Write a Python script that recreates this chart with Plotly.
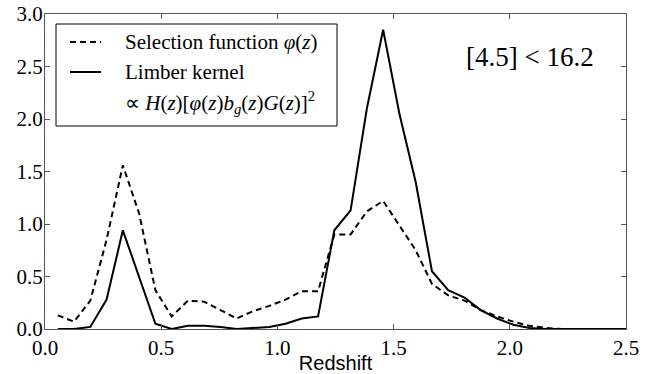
import numpy as np
import plotly.graph_objects as go

# Redshift bin centres
redshift = [0.055, 0.125, 0.195, 0.265, 0.335, 0.405, 0.475, 0.545, 0.615, 0.685,
            0.755, 0.825, 0.895, 0.965, 1.035, 1.105, 1.175, 1.245, 1.315, 1.385,
            1.455, 1.525, 1.595, 1.665, 1.735, 1.805, 1.875, 1.945, 2.015, 2.085,
            2.155, 2.225, 2.295, 2.365, 2.435, 2.505]

# Normalised selection function phi(z)
selection = [0.13, 0.07, 0.27, 0.85, 1.56, 1.10, 0.37, 0.12, 0.27, 0.26,
             0.18, 0.10, 0.17, 0.22, 0.28, 0.36, 0.36, 0.90, 0.90, 1.12,
             1.22, 0.98, 0.75, 0.43, 0.32, 0.27, 0.18, 0.12, 0.07, 0.03,
             0.01, 0.0, 0.0, 0.0, 0.0, 0.0]

# Limber kernel H(z)[phi(z) b_g(z) G(z)]^2 (arbitrary normalisation)
limber = [0.0, 0.0, 0.02, 0.28, 0.94, 0.50, 0.05, 0.0, 0.03, 0.03,
          0.02, 0.0, 0.01, 0.02, 0.05, 0.10, 0.12, 0.94, 1.13, 2.10,
          2.85, 2.05, 1.40, 0.55, 0.37, 0.30, 0.18, 0.10, 0.04, 0.01,
          0.0, 0.0, 0.0, 0.0, 0.0, 0.0]

x_ticks = [0.0, 0.5, 1.0, 1.5, 2.0, 2.5]
y_ticks = [0.0, 0.5, 1.0, 1.5, 2.0, 2.5, 3.0]

legend_labels = [
    "Selection function <i>φ</i>(<i>z</i>)",
    "Limber kernel",
    "∝ <i>H</i>(<i>z</i>)[<i>φ</i>(<i>z</i>)<i>b<sub>g</sub></i>(<i>z</i>)<i>G</i>(<i>z</i>)]<sup>2</sup>",
]

serif = "Liberation Serif"
sans = "Liberation Sans"
axis_col = "#555555"

W, H = 656, 374
M = dict(l=45, r=30, t=14, b=45)
pw = W - M["l"] - M["r"]
ph = H - M["t"] - M["b"]


def px_x(p):
    """Pixel column -> paper x."""
    return (p - M["l"]) / pw


def px_y(p):
    """Pixel row -> paper y."""
    return 1 - (p - M["t"]) / ph


fig = go.Figure()
fig.add_trace(go.Scatter(
    x=redshift, y=selection, mode="lines", showlegend=False,
    name="Selection function",
    line=dict(color="black", width=2, dash="6px,4px"),
))
fig.add_trace(go.Scatter(
    x=redshift, y=limber, mode="lines", showlegend=False,
    name="Limber kernel",
    line=dict(color="black", width=2),
))

# Legend box with line samples and labels
fig.add_shape(type="rect", xref="paper", yref="paper",
              x0=px_x(56), x1=px_x(337), y0=px_y(126), y1=px_y(24),
              line=dict(color="black", width=1), fillcolor="white", layer="above")
fig.add_shape(type="line", xref="paper", yref="paper",
              x0=px_x(70), x1=px_x(101), y0=px_y(42), y1=px_y(42),
              line=dict(color="black", width=2, dash="6px,4px"), layer="above")
fig.add_shape(type="line", xref="paper", yref="paper",
              x0=px_x(70), x1=px_x(101), y0=px_y(72), y1=px_y(72),
              line=dict(color="black", width=2), layer="above")
for label, row in zip(legend_labels, [42, 72, 102]):
    fig.add_annotation(
        x=px_x(123), y=px_y(row), xref="paper", yref="paper",
        xanchor="left", yanchor="middle", text=label, showarrow=False,
        font=dict(family=serif, size=21, color="black"),
    )

fig.add_annotation(
    x=px_x(596), y=px_y(57), xref="paper", yref="paper",
    xanchor="right", yanchor="middle",
    text="[4.5] < 16.2", showarrow=False,
    font=dict(family=serif, size=27, color="black"),
)

tick_font = dict(family="Liberation Serif, serif", size=21, color="#000000")

fig.update_layout(
    width=W, height=H, margin=M,
    paper_bgcolor="white", plot_bgcolor="white",
    showlegend=False,
    font=dict(family="Liberation Serif, serif", size=21, color="#000000"),
    xaxis=dict(
        range=[0, 2.5], tickmode="array", tickvals=x_ticks,
        ticktext=[f"{v:.1f}" for v in x_ticks],
        showline=True, linecolor=axis_col, linewidth=1, mirror="ticks",
        ticks="inside", ticklen=5, tickwidth=1, tickcolor=axis_col,
        showgrid=False, zeroline=False, automargin=False,
        tickfont=tick_font,
        title=dict(text="Redshift",
                   font=dict(family=sans, size=20, color="black")),
    ),
    yaxis=dict(
        range=[0, 3.0], tickmode="array", tickvals=y_ticks,
        ticktext=[f"{v:.1f}" for v in y_ticks],
        showline=True, linecolor=axis_col, linewidth=1, mirror="ticks",
        ticks="inside", ticklen=5, tickwidth=1, tickcolor=axis_col,
        showgrid=False, zeroline=False, automargin=False,
        tickfont=tick_font, ticklabelstandoff=-3,
    ),
)

fig.write_html("out.html")
